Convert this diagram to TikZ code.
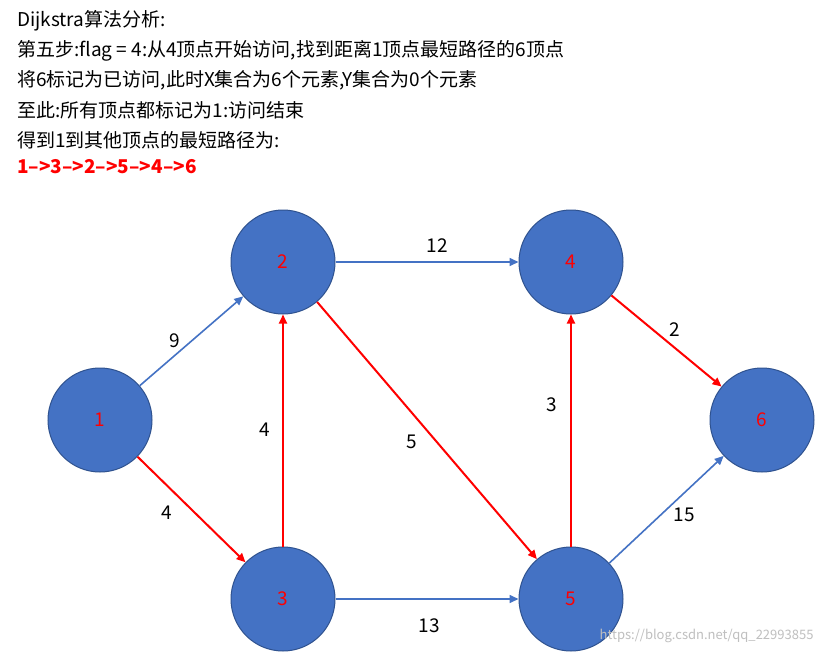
\documentclass[tikz,border=0pt]{standalone}
\usepackage{fontspec}
\setmainfont{Noto Sans CJK SC}
\usetikzlibrary{arrows.meta}
\definecolor{nodeblue}{HTML}{4472C4}
\definecolor{nodeedge}{HTML}{2F528F}
\definecolor{redline}{HTML}{FF0000}
\tikzset{
  vtx/.style={circle,fill=nodeblue,draw=nodeedge,line width=1pt,minimum size=104pt,inner sep=0pt,text=red,font=\fontsize{19}{19}\selectfont},
  bl/.style={draw=nodeblue,line width=1.6pt,-{Triangle[length=9pt,width=8pt]}},
  rd/.style={draw=redline,line width=2pt,-{Triangle[length=9pt,width=8pt]}},
  wt/.style={font=\fontsize{19}{19}\selectfont,text=black},
  ln/.style={anchor=west,inner sep=0pt,font=\fontsize{19}{19}\selectfont}
}
\begin{document}
\begin{tikzpicture}[x=1pt,y=-1pt]
\useasboundingbox (0,0) rectangle (825,654);
\fill[white] (0,0) rectangle (825,654);
\node[ln] (t1) at (17,21) {Dijkstra算法分析:};
\node[ln] (t2) at (17,51) {第五步:flag = 4:从4顶点开始访问,找到距离1顶点最短路径的6顶点};
\node[ln] (t3) at (17,80) {将6标记为已访问,此时X集合为6个元素,Y集合为0个元素};
\node[ln] (t4) at (17,110) {至此:所有顶点都标记为1:访问结束};
\node[ln] (t5) at (17,140) {得到1到其他顶点的最短路径为:};
\node[ln,text=red,font=\fontsize{19}{19}\selectfont\bfseries] (t6) at (17,167) {1-->3-->2-->5-->4-->6};
\node[vtx] (n1) at (100,420) {1};
\node[vtx] (n2) at (283,262) {2};
\node[vtx] (n3) at (283,599) {3};
\node[vtx] (n4) at (571,262) {4};
\node[vtx] (n5) at (571,599) {5};
\node[vtx] (n6) at (762,420) {6};
\draw[bl] (n1) -- (n2);
\draw[rd] (n1) -- (n3);
\draw[rd] (n3) -- (n2);
\draw[bl] (n2) -- (n4);
\draw[rd] (n2) -- (n5);
\draw[bl] (n3) -- (n5);
\draw[rd] (n5) -- (n4);
\draw[rd] (n4) -- (n6);
\draw[bl] (n5) -- (n6);
\node[wt] (w9) at (175,341) {9};
\node[wt] (w4a) at (167,513) {4};
\node[wt] (w4b) at (265,430) {4};
\node[wt] (w12) at (437,246) {12};
\node[wt] (w5) at (412,442) {5};
\node[wt] (w13) at (429,626) {13};
\node[wt] (w3) at (552,405) {3};
\node[wt] (w2) at (675,330) {2};
\node[wt] (w15) at (684,515) {15};
\node[anchor=east,text=gray!50,font=\fontsize{13}{13}\selectfont] (wm) at (817,636) {https://blog.csdn.net/qq\_22993855};
\end{tikzpicture}
\end{document}
